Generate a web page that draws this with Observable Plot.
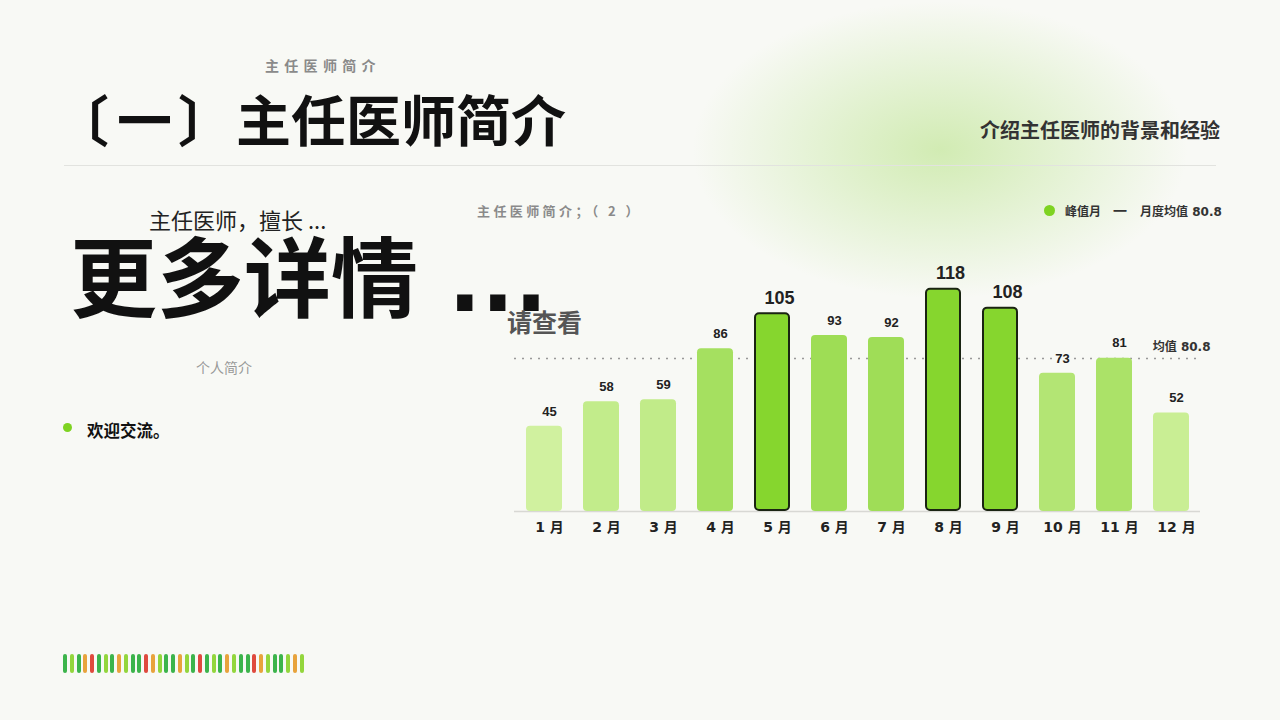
<!DOCTYPE html>
<html><head><meta charset="utf-8">
<script src="https://cdn.jsdelivr.net/npm/d3@7"></script>
<script src="https://cdn.jsdelivr.net/npm/@observablehq/plot@0.6"></script>
<style>
html,body{margin:0;padding:0;}
body{width:1280px;height:720px;background:#f8f9f5;position:relative;overflow:hidden;font-family:"Noto Sans CJK SC","Noto Sans",sans-serif;}
.abs{position:absolute;white-space:nowrap;}
.dj{font-family:"DejaVu Sans","Noto Sans CJK SC",sans-serif;}
#glow{position:absolute;left:690px;top:0px;width:500px;height:300px;border-radius:50%;background:radial-gradient(ellipse at center, rgba(178,224,125,0.55) 0%, rgba(192,230,152,0.3) 40%, rgba(248,249,245,0) 70%);}
#chart{position:absolute;left:500px;top:255px;}
#stripes{position:absolute;left:63px;top:654px;height:19px;}
#stripes div{position:absolute;top:0;width:4px;height:19px;border-radius:2px;}
</style></head>
<body>
<div id="glow"></div>
<div class="abs" style="left:265px;top:55px;font-size:14px;font-weight:700;color:#8a8a8a;letter-spacing:5.3px;">主任医师简介</div>
<div class="abs" style="left:54px;top:82px;font-size:55px;font-weight:700;color:#111;line-height:70px;"><span style="margin-right:8px">〔</span><span style="margin-right:6px">一</span><span style="margin-right:3px">〕</span>主任医师简介</div>
<div class="abs" style="right:60px;top:115px;font-size:20px;font-weight:700;color:#333;">介绍主任医师的背景和经验</div>
<div class="abs" style="left:64px;top:165px;width:1152px;height:1px;background:#e2e3df;"></div>
<div class="abs" style="left:149px;top:203px;font-size:22px;color:#222;">主任医师，擅长 ...</div>
<div class="abs dj" style="left:70px;top:226px;font-size:87px;font-weight:700;color:#111;line-height:110px;">更多详情 ...</div>
<div class="abs" style="left:507px;top:303px;font-size:25px;font-weight:700;color:#555;">请查看</div>
<div class="abs" style="left:477px;top:201px;font-size:13px;font-weight:700;color:#8a8a8a;letter-spacing:3.4px;">主任医师简介；（ 2 ）</div>
<div class="abs" style="left:1044px;top:205px;width:11px;height:11px;border-radius:50%;background:#7ed321;"></div>
<div class="abs" style="left:1065px;top:202px;font-size:12px;font-weight:700;color:#333;">峰值月</div>
<div class="abs" style="left:1113px;top:200px;font-size:14px;font-weight:700;color:#333;">一</div>
<div class="abs dj" style="left:1140px;top:202px;font-size:12px;font-weight:700;color:#333;">月度均值 80.8</div>
<div class="abs" style="left:196px;top:357px;font-size:14px;color:#999;">个人简介</div>
<div class="abs" style="left:63px;top:423px;width:9px;height:9px;border-radius:50%;background:#7ed321;"></div>
<div class="abs" style="left:87px;top:418px;font-size:16.5px;font-weight:700;color:#111;">欢迎交流。</div>
<div id="chart"></div>
<div id="stripes"></div>
<script>
const months = ["1 月","2 月","3 月","4 月","5 月","6 月","7 月","8 月","9 月","10 月","11 月","12 月"];
const values = [45,58,59,86,105,93,92,118,108,73,81,52];
const peaks = ["5 月","8 月","9 月"];
const meanValue = 80.8;
const meanLabel = "均值 80.8";
const stripeColors = ["dg","lg","dg","or","rd","dg","lg","dg","or","lg","dg","dg","rd","or","lg","dg","dg","or","lg","dg","rd","dg","lg","dg","or","lg","dg","dg","rd","or","lg","dg","dg","lg","or","lg"];

const palette = {dg:"#3cb44b", lg:"#93d63c", or:"#e8a33c", rd:"#df4a3e"};
const st = document.getElementById("stripes");
stripeColors.forEach((c,i)=>{const d=document.createElement("div");d.style.left=(i*6.76)+"px";d.style.background=palette[c];st.appendChild(d);});

const interp = d3.interpolateRgb("#d0f19f", "#9edd55");
const data = months.map((m,i)=>({month:m, value:values[i], peak:peaks.includes(m)}));
data.forEach(d=>{ d.fill = d.peak ? "#86d62e" : interp((d.value-45)/(93-45)); });

const font = "'DejaVu Sans','Noto Sans CJK SC',sans-serif";
const numFont = "'Liberation Sans',Arial,sans-serif";
const chart = Plot.plot({
  width:720, height:290,
  marginLeft:14, marginRight:20, marginTop:10, marginBottom:34,
  style:{background:"transparent", fontFamily:font},
  x:{domain:months, paddingInner:0.37, paddingOuter:0.19, label:null},
  y:{domain:[0,130], axis:null},
  marks:[
    Plot.ruleY([0], {stroke:"#d8d8d4", strokeWidth:1.5}),
    Plot.ruleY([meanValue], {stroke:"#999", strokeDasharray:"2,6", strokeWidth:1.5}),
    Plot.barY(data.filter(d=>!d.peak), {x:"month", y:"value", fill:"fill", rx:4}),
    Plot.barY(data.filter(d=>d.peak), {x:"month", y:"value", fill:"fill", stroke:"#1a2412", strokeWidth:2, rx:4, inset:1}),
    Plot.text(data.filter(d=>!d.peak), {x:"month", y:"value", text:d=>String(d.value), dx:5, dy:-15, fontSize:13, fontWeight:"bold", fill:"#222", fontFamily:numFont}),
    Plot.text(data.filter(d=>d.peak), {x:"month", y:"value", text:d=>String(d.value), dx:7, dy:-15, fontSize:18, fontWeight:"bold", fill:"#222", fontFamily:numFont}),
    Plot.text([meanValue], {y:d=>d, frameAnchor:"right", textAnchor:"end", dx:10, dy:-11, text:()=>meanLabel, fontSize:12, fontWeight:"bold", fill:"#333"}),
    Plot.axisX({tickSize:0, tickPadding:11, dx:5, fontSize:14, fontWeight:"bold", fill:"#222", label:null})
  ]
});
document.getElementById("chart").appendChild(chart);
</script>
</body></html>
